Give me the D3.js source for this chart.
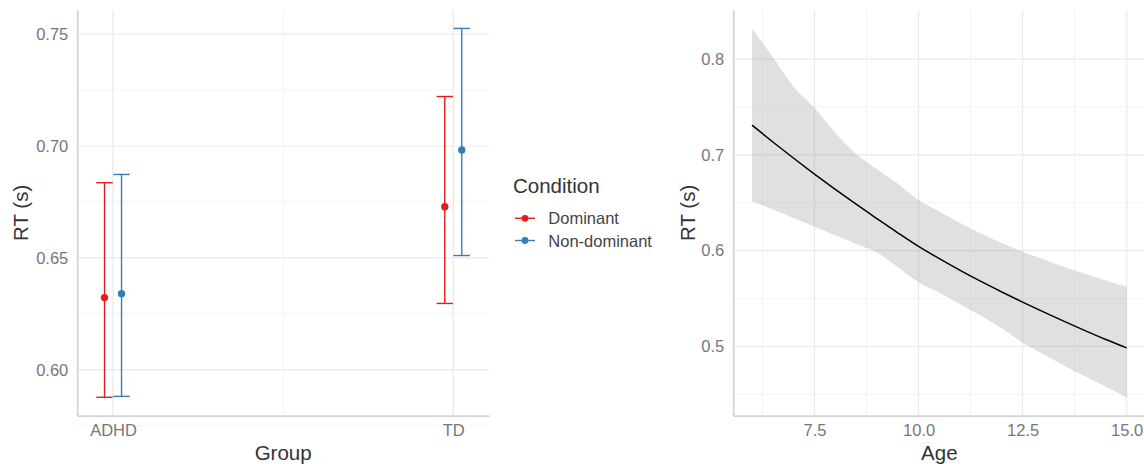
<!DOCTYPE html>
<html>
<head>
<meta charset="utf-8">
<script src="https://cdn.jsdelivr.net/npm/d3@7"></script>
<style>
  body { margin: 0; background: #fff; }
  svg { display: block; font-family: "Liberation Sans", Arial, sans-serif; }
</style>
</head>
<body>
<div id="chart"></div>
<script>
// left panel: mean RT per group and hand condition, with CI
const groups = ["ADHD", "TD"];
const conditions = ["Dominant", "Non-dominant"];
const dominantMean = [0.6323, 0.6729];
const dominantLow = [0.5878, 0.6297];
const dominantHigh = [0.6836, 0.7221];
const nonDominantMean = [0.6340, 0.6982];
const nonDominantLow = [0.5882, 0.6511];
const nonDominantHigh = [0.6873, 0.7525];
const groupYTicks = [0.60, 0.65, 0.70, 0.75];

// right panel: predicted RT by age with ribbon
const ages = [6, 6.5, 7, 7.5, 8, 8.5, 9, 9.5, 10, 10.5, 11, 11.5, 12, 12.5, 13, 13.5, 14, 14.5, 15];
const fitRT = [0.7310, 0.7135, 0.6965, 0.6800, 0.6640, 0.6485, 0.6335, 0.6187, 0.6045, 0.5917, 0.5795, 0.5679, 0.5569, 0.5463, 0.5361, 0.5262, 0.5166, 0.5073, 0.4985];
const fitHigh = [0.832, 0.802, 0.771, 0.749, 0.723, 0.701, 0.685, 0.670, 0.653, 0.641, 0.629, 0.618, 0.608, 0.599, 0.591, 0.583, 0.576, 0.569, 0.5625];
const fitLow = [0.652, 0.643, 0.634, 0.625, 0.616, 0.607, 0.598, 0.583, 0.567, 0.556, 0.544, 0.532, 0.519, 0.504, 0.492, 0.480, 0.469, 0.458, 0.447];
const ageXTicks = [7.5, 10, 12.5, 15];
const ageYTicks = [0.5, 0.6, 0.7, 0.8];

const colors = { "Dominant": "#E41A1C", "Non-dominant": "#377EB8" };
const gridMajor = "#e9e9e9";
const gridMinor = "#f4f4f4";
const axisColor = "#c4c4c4";
const tickColor = "#777777";
const titleColor = "#333333";

const width = 1144, height = 464;

const svg = d3.select("#chart")
    .append("svg")
    .attr("width", width)
    .attr("height", height)
    .attr("viewBox", [0, 0, width, height]);

// ggplot style 5% expansion
const expand = (lo, hi, f = 0.05) => [lo - (hi - lo) * f, hi + (hi - lo) * f];

// ---------- left panel ----------
const L = { left: 77.3, right: 489, top: 10, bottom: 415.7 };

const series = conditions.map((c, ci) => ({
    condition: c,
    mean: ci === 0 ? dominantMean : nonDominantMean,
    low: ci === 0 ? dominantLow : nonDominantLow,
    high: ci === 0 ? dominantHigh : nonDominantHigh,
    dodge: ci === 0 ? -8.5 : 8.5
}));

const allLow = d3.min(series, s => d3.min(s.low));
const allHigh = d3.max(series, s => d3.max(s.high));

const xGroup = d3.scalePoint(groups, [L.left, L.right]).padding(0.105);
const yGroup = d3.scaleLinear(expand(allLow, allHigh), [L.bottom, L.top]);

const left = svg.append("g");

// minor grid
const yMinorL = d3.range(0.575, 0.76, 0.05);
left.append("g").selectAll("line")
    .data(yMinorL)
    .join("line")
    .attr("x1", L.left).attr("x2", L.right)
    .attr("y1", d => yGroup(d)).attr("y2", d => yGroup(d))
    .attr("stroke", gridMinor).attr("stroke-width", 1);

left.append("line")
    .attr("x1", (xGroup("ADHD") + xGroup("TD")) / 2)
    .attr("x2", (xGroup("ADHD") + xGroup("TD")) / 2)
    .attr("y1", L.top).attr("y2", L.bottom)
    .attr("stroke", gridMinor).attr("stroke-width", 1);

// major grid
left.append("g").selectAll("line")
    .data(groupYTicks)
    .join("line")
    .attr("x1", L.left).attr("x2", L.right)
    .attr("y1", d => yGroup(d)).attr("y2", d => yGroup(d))
    .attr("stroke", gridMajor).attr("stroke-width", 1.2);

left.append("g").selectAll("line")
    .data(groups)
    .join("line")
    .attr("x1", d => xGroup(d)).attr("x2", d => xGroup(d))
    .attr("y1", L.top).attr("y2", L.bottom)
    .attr("stroke", gridMajor).attr("stroke-width", 1.2);

// axes
left.append("g")
    .attr("transform", `translate(${L.left},0)`)
    .call(d3.axisLeft(yGroup).tickValues(groupYTicks).tickFormat(d3.format(".2f")).tickSize(0).tickPadding(9))
    .call(g => g.select(".domain").attr("stroke", axisColor).attr("stroke-width", 1.2))
    .call(g => g.selectAll(".tick text").attr("fill", tickColor).style("font-size", "16.5px").attr("font-family", null));

left.append("g")
    .attr("transform", `translate(0,${L.bottom})`)
    .call(d3.axisBottom(xGroup).tickSize(0).tickPadding(9))
    .call(g => g.select(".domain").attr("stroke", axisColor).attr("stroke-width", 1.2))
    .call(g => g.selectAll(".tick text").attr("fill", tickColor).style("font-size", "16.5px").attr("font-family", null));

// error bars and points
const bars = left.append("g").selectAll("g")
    .data(series)
    .join("g")
    .attr("stroke", d => colors[d.condition])
    .attr("fill", d => colors[d.condition]);

bars.each(function (s) {
    const g = d3.select(this);
    groups.forEach((grp, i) => {
        const cx = xGroup(grp) + s.dodge;
        g.append("line")
            .attr("x1", cx).attr("x2", cx)
            .attr("y1", yGroup(s.low[i])).attr("y2", yGroup(s.high[i]))
            .attr("stroke-width", 1.4);
        [s.low[i], s.high[i]].forEach(v => {
            g.append("line")
                .attr("x1", cx - 8.2).attr("x2", cx + 8.2)
                .attr("y1", yGroup(v)).attr("y2", yGroup(v))
                .attr("stroke-width", 1.4);
        });
        g.append("circle")
            .attr("cx", cx).attr("cy", yGroup(s.mean[i]))
            .attr("r", 3.7)
            .attr("stroke", "none");
    });
});

// titles
left.append("text")
    .attr("x", (L.left + L.right) / 2).attr("y", 460)
    .attr("text-anchor", "middle")
    .attr("fill", titleColor)
    .style("font-size", "20.5px")
    .text("Group");

left.append("text")
    .attr("transform", `translate(28,${(L.top + L.bottom) / 2}) rotate(-90)`)
    .attr("text-anchor", "middle")
    .attr("fill", titleColor)
    .style("font-size", "20.5px")
    .text("RT (s)");

// legend
const legend = svg.append("g").attr("transform", "translate(513,0)");
legend.append("text")
    .attr("x", 0).attr("y", 193.3)
    .attr("fill", titleColor)
    .style("font-size", "20.5px")
    .text("Condition");

const items = legend.selectAll("g.item")
    .data(conditions)
    .join("g")
    .attr("class", "item")
    .attr("transform", (d, i) => `translate(0,${218.3 + i * 22.2})`);

items.append("line")
    .attr("x1", 2).attr("x2", 22)
    .attr("stroke", d => colors[d]).attr("stroke-width", 1.4);
items.append("circle")
    .attr("cx", 12).attr("r", 3.4)
    .attr("fill", d => colors[d]);
items.append("text")
    .attr("x", 35.3).attr("y", 6)
    .attr("fill", "#444")
    .style("font-size", "16.5px")
    .text(d => d);

// ---------- right panel ----------
const R = { left: 733.3, right: 1145.4, top: 10, bottom: 415.7 };

const xAge = d3.scaleLinear(expand(d3.min(ages), d3.max(ages)), [R.left, R.right]);
const yAge = d3.scaleLinear(expand(d3.min(fitLow), d3.max(fitHigh)), [R.bottom, R.top]);

const right = svg.append("g");

const xMinorR = [6.25, 8.75, 11.25, 13.75];
const yMinorR = [0.45, 0.55, 0.65, 0.75];

right.append("g").selectAll("line")
    .data(yMinorR)
    .join("line")
    .attr("x1", R.left).attr("x2", R.right)
    .attr("y1", d => yAge(d)).attr("y2", d => yAge(d))
    .attr("stroke", gridMinor).attr("stroke-width", 1);
right.append("g").selectAll("line")
    .data(xMinorR)
    .join("line")
    .attr("x1", d => xAge(d)).attr("x2", d => xAge(d))
    .attr("y1", R.top).attr("y2", R.bottom)
    .attr("stroke", gridMinor).attr("stroke-width", 1);

right.append("g").selectAll("line")
    .data(ageYTicks)
    .join("line")
    .attr("x1", R.left).attr("x2", R.right)
    .attr("y1", d => yAge(d)).attr("y2", d => yAge(d))
    .attr("stroke", gridMajor).attr("stroke-width", 1.2);
right.append("g").selectAll("line")
    .data(ageXTicks)
    .join("line")
    .attr("x1", d => xAge(d)).attr("x2", d => xAge(d))
    .attr("y1", R.top).attr("y2", R.bottom)
    .attr("stroke", gridMajor).attr("stroke-width", 1.2);

const fit = ages.map((a, i) => ({ age: a, rt: fitRT[i], lo: fitLow[i], hi: fitHigh[i] }));

right.append("path")
    .datum(fit)
    .attr("fill", "#999999")
    .attr("fill-opacity", 0.3)
    .attr("d", d3.area().x(d => xAge(d.age)).y0(d => yAge(d.lo)).y1(d => yAge(d.hi)).curve(d3.curveMonotoneX));

right.append("path")
    .datum(fit)
    .attr("fill", "none")
    .attr("stroke", "#000")
    .attr("stroke-width", 1.5)
    .attr("d", d3.line().x(d => xAge(d.age)).y(d => yAge(d.rt)).curve(d3.curveMonotoneX));

right.append("g")
    .attr("transform", `translate(${R.left},0)`)
    .call(d3.axisLeft(yAge).tickValues(ageYTicks).tickFormat(d3.format(".1f")).tickSize(0).tickPadding(9))
    .call(g => g.select(".domain").attr("stroke", axisColor).attr("stroke-width", 1.2))
    .call(g => g.selectAll(".tick text").attr("fill", tickColor).style("font-size", "16.5px").attr("font-family", null));

right.append("g")
    .attr("transform", `translate(0,${R.bottom})`)
    .call(d3.axisBottom(xAge).tickValues(ageXTicks).tickFormat(d3.format(".1f")).tickSize(0).tickPadding(9))
    .call(g => g.select(".domain").attr("stroke", axisColor).attr("stroke-width", 1.2))
    .call(g => g.selectAll(".tick text").attr("fill", tickColor).style("font-size", "16.5px").attr("font-family", null));

right.append("text")
    .attr("x", (R.left + R.right) / 2).attr("y", 460)
    .attr("text-anchor", "middle")
    .attr("fill", titleColor)
    .style("font-size", "20.5px")
    .text("Age");

right.append("text")
    .attr("transform", `translate(695,${(R.top + R.bottom) / 2}) rotate(-90)`)
    .attr("text-anchor", "middle")
    .attr("fill", titleColor)
    .style("font-size", "20.5px")
    .text("RT (s)");
</script>
</body>
</html>
